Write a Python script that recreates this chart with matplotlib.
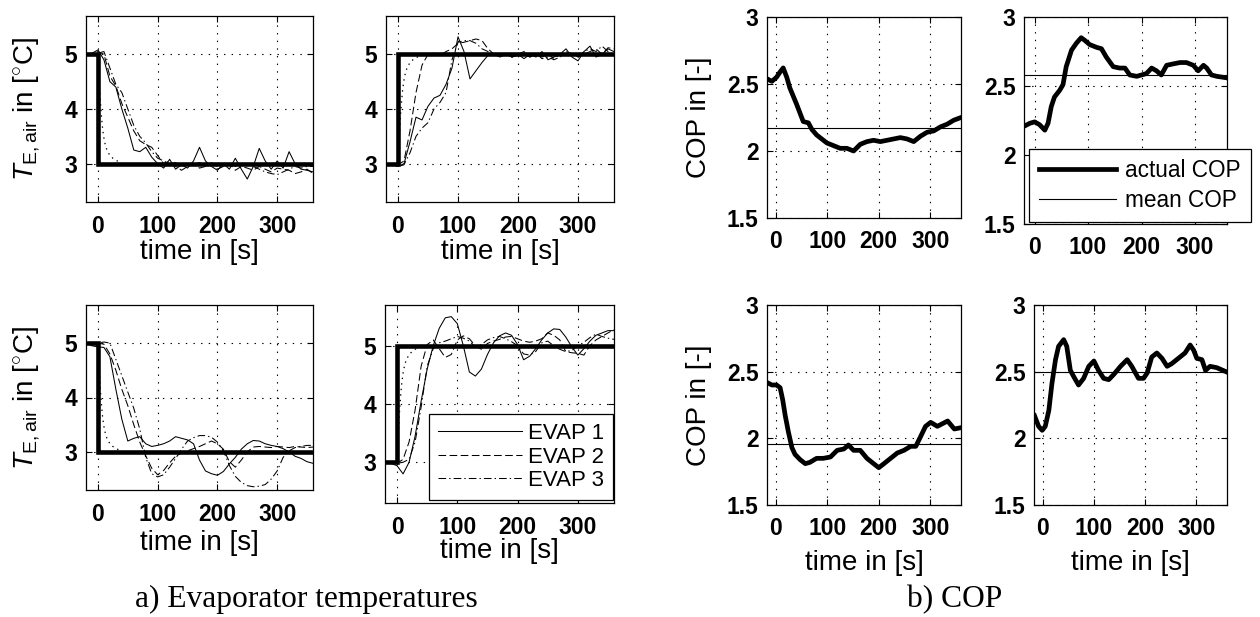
import matplotlib
matplotlib.use('Agg')
import matplotlib.pyplot as plt

plt.rcParams.update({
    'font.family': ['Liberation Sans', 'DejaVu Sans'],
    'mathtext.fontset': 'custom',
    'mathtext.rm': 'Liberation Sans',
    'mathtext.it': 'Liberation Sans:italic',
    'mathtext.bf': 'Liberation Sans:bold',
    'lines.scale_dashes': False,
})

# ---------------- data ----------------
x_ticks = [0, 100, 200, 300]
temp_yticks = [3, 4, 5]
cop_yticks = [1.5, 2, 2.5, 3]
cop_yticklabels = ['1.5', '2', '2.5', '3']
evap_names = ['EVAP 1', 'EVAP 2', 'EVAP 3']
cop_names = ['actual COP', 'mean COP']

# sample times of the evaporator traces
t_evap = [-20, -10, 0, 10, 20, 30, 40, 50, 60, 70, 80, 90, 100, 110, 120, 130,
          140, 150, 160, 170, 180, 190, 200, 210, 220, 230, 240, 250, 260, 270,
          280, 290, 300, 310, 320, 330, 340, 350, 360]

# set points
sp_t = [-20, 0, 0, 360]
sp_down = [5, 5, 3, 3]
sp_up = [3, 3, 5, 5]

# reference model response (dotted)
ref_t = [0, 2, 4, 6, 8, 10, 12, 15, 20, 25, 30, 40]
ref_down = [5.0, 4.55, 4.15, 3.85, 3.62, 3.47, 3.36, 3.25, 3.15, 3.10, 3.06, 3.02]
ref_up = [3.0, 3.45, 3.85, 4.15, 4.38, 4.53, 4.64, 4.75, 4.85, 4.90, 4.94, 4.98]

# panel 1 (top left): step 5 -> 3
p1_e1 = [5.0, 5.02, 5.08, 4.9, 4.5, 4.4, 4.0, 3.65, 3.25, 3.22, 3.3, 3.12, 3.0, 2.92,
         3.08, 2.9, 2.98, 2.92, 3.05, 3.3, 3.05, 2.95, 2.88, 3.0, 2.9, 3.1, 2.9, 2.72,
         2.95, 3.28, 3.05, 2.9, 3.05, 2.92, 3.22, 3.0, 2.9, 2.88, 2.85]
p1_e2 = [5.0, 5.0, 5.05, 5.0, 4.6, 4.42, 4.1, 3.85, 3.6, 3.42, 3.35, 3.3, 3.15, 3.0,
         3.05, 2.95, 2.88, 2.95, 3.0, 2.92, 2.95, 3.02, 2.9, 2.95, 3.0, 2.88, 2.95,
         2.92, 2.88, 2.95, 2.9, 2.85, 2.92, 2.9, 2.88, 2.82, 2.85, 2.9, 2.82]
p1_e3 = [5.0, 5.0, 5.02, 5.05, 4.75, 4.45, 4.3, 4.0, 3.7, 3.5, 3.38, 3.22, 3.1, 3.05,
         3.0, 3.02, 2.95, 3.0, 2.98, 3.02, 2.95, 3.0, 2.95, 2.98, 3.0, 2.95, 2.98,
         3.0, 2.95, 2.9, 2.85, 2.82, 2.8, 2.85, 2.9, 2.95, 2.92, 2.95, 2.95]

# panel 2 (top right): step 3 -> 5
p2_e1 = [3.0, 2.98, 2.95, 3.0, 3.4, 3.85, 3.8, 4.05, 4.2, 4.25, 4.45, 4.75, 5.32,
         5.05, 4.55, 4.7, 4.85, 4.98, 5.0, 4.95, 5.0, 4.95, 5.0, 4.92, 5.0, 4.95,
         5.05, 4.9, 4.95, 5.0, 5.1, 4.95, 4.88, 5.05, 5.15, 4.95, 5.0, 5.1, 5.05]
p2_e2 = [3.0, 3.0, 2.98, 3.05, 3.6, 4.3, 4.8, 5.0, 5.02, 4.98, 5.05, 5.1, 5.2, 5.22,
         5.25, 5.28, 5.25, 5.1, 5.0, 4.98, 5.02, 4.95, 5.0, 5.05, 4.95, 5.0, 4.95,
         5.0, 4.92, 5.0, 5.05, 5.0, 4.95, 5.0, 5.05, 5.1, 5.0, 5.12, 5.1]
p2_e3 = [3.0, 3.0, 2.95, 2.98, 3.2, 3.5, 3.65, 3.75, 4.0, 4.12, 4.3, 4.9, 5.22, 5.25,
         5.25, 5.2, 5.1, 5.05, 5.0, 4.98, 5.0, 4.95, 4.98, 5.0, 4.95, 5.02, 4.92,
         4.95, 4.9, 4.95, 5.0, 5.02, 4.95, 5.05, 5.1, 5.05, 5.15, 5.05, 5.0]

# panel 3 (bottom left): step 5 -> 3
p3_e1 = [5.0, 4.95, 4.93, 4.92, 4.75, 4.15, 3.6, 3.2, 3.25, 3.28, 3.15, 3.1, 3.12,
         3.15, 3.2, 3.28, 3.25, 3.22, 3.15, 2.85, 2.65, 2.6, 2.57, 2.64, 2.78, 2.9,
         3.05, 3.15, 3.21, 3.2, 3.15, 3.12, 3.1, 3.06, 3.0, 2.92, 2.88, 2.82, 2.79]
p3_e2 = [5.0, 5.0, 5.0, 4.98, 4.8, 4.5, 4.15, 3.85, 3.5, 3.18, 2.93, 2.7, 2.58, 2.66,
         2.8, 2.92, 2.98, 3.02, 3.06, 3.1, 3.15, 3.2, 3.15, 3.05, 2.82, 2.72, 2.85,
         3.0, 3.09, 3.1, 3.09, 3.08, 3.1, 3.09, 3.08, 3.1, 3.09, 3.08, 3.09]
p3_e3 = [5.0, 5.0, 5.0, 5.02, 5.0, 4.7, 4.4, 4.1, 3.8, 3.42, 2.9, 2.6, 2.54, 2.58,
         2.72, 2.88, 3.05, 3.2, 3.26, 3.3, 3.3, 3.27, 3.18, 3.02, 2.75, 2.55, 2.44,
         2.38, 2.36, 2.37, 2.4, 2.5, 2.65, 2.9, 3.02, 3.08, 3.1, 3.12, 3.12]

# panel 4 (bottom right): step 3 -> 5
p4_e1 = [3.0, 2.98, 2.94, 2.8, 3.0, 3.45, 4.05, 4.6, 5.0, 5.3, 5.48, 5.5, 5.38, 5.0,
         4.55, 4.48, 4.6, 4.85, 5.05, 5.17, 5.22, 5.18, 5.02, 4.76, 4.82, 4.95, 5.1,
         5.22, 5.29, 5.28, 5.15, 4.98, 4.84, 4.95, 5.08, 5.18, 5.22, 5.26, 5.26]
p4_e2 = [3.0, 3.0, 2.98, 3.05, 3.35, 3.9, 4.65, 5.02, 5.1, 4.95, 4.8, 4.85, 5.1, 5.17,
         5.12, 5.0, 4.94, 5.04, 5.08, 5.11, 5.15, 5.16, 5.12, 5.08, 5.06, 5.08, 5.12,
         5.22, 5.18, 5.1, 4.9, 4.88, 4.87, 4.84, 5.0, 5.1, 5.16, 5.22, 5.28]
p4_e3 = [3.0, 3.0, 2.98, 3.0, 3.05, 3.35, 3.95, 4.65, 4.95, 5.05, 5.08, 5.12, 5.16,
         5.13, 5.08, 4.98, 5.02, 5.1, 5.14, 5.16, 5.12, 5.07, 5.0, 4.86, 4.84, 4.9,
         5.05, 5.08, 5.0, 4.94, 4.9, 4.92, 5.0, 5.06, 5.14, 5.2, 5.16, 5.13, 5.11]

# COP panels
p5_t = [-18, -8, 1, 8, 14, 21, 27, 40, 53, 63, 70, 79, 89, 99, 112, 125, 138, 151,
        164, 177, 190, 203, 216, 229, 242, 255, 268, 281, 294, 307, 320, 333, 346, 360]
p5_cop = [2.54, 2.52, 2.55, 2.59, 2.62, 2.55, 2.47, 2.35, 2.22, 2.21, 2.16, 2.12,
          2.09, 2.06, 2.04, 2.02, 2.02, 2.0, 2.05, 2.07, 2.08, 2.07, 2.08, 2.09, 2.1,
          2.09, 2.07, 2.11, 2.14, 2.15, 2.18, 2.2, 2.23, 2.25]
p5_mean = 2.17

p6_t = [-19, -9, 0, 9, 19, 25, 31, 37, 47, 53, 59, 69, 78, 87, 94, 103, 116, 125,
        134, 147, 159, 169, 178, 191, 200, 209, 219, 228, 237, 247, 259, 272, 284,
        297, 306, 316, 322, 331, 341, 358]
p6_cop = [2.21, 2.23, 2.24, 2.22, 2.18, 2.23, 2.35, 2.42, 2.47, 2.51, 2.64, 2.76,
          2.81, 2.85, 2.83, 2.8, 2.78, 2.77, 2.71, 2.64, 2.63, 2.63, 2.58, 2.57, 2.58,
          2.59, 2.63, 2.61, 2.58, 2.65, 2.66, 2.67, 2.67, 2.65, 2.61, 2.65, 2.63, 2.58,
          2.57, 2.56]
p6_mean = 2.58

p7_t = [-18, -8, 1, 8, 13, 18, 24, 31, 37, 47, 57, 66, 79, 92, 106, 119, 132, 141,
        151, 164, 177, 190, 200, 210, 223, 236, 249, 262, 272, 281, 291, 301, 314,
        324, 334, 347, 360]
p7_cop = [2.42, 2.4, 2.4, 2.38, 2.29, 2.17, 2.05, 1.93, 1.88, 1.84, 1.81, 1.82, 1.85,
          1.85, 1.86, 1.91, 1.92, 1.95, 1.91, 1.91, 1.85, 1.81, 1.78, 1.81, 1.85, 1.89,
          1.91, 1.94, 1.94, 2.01, 2.09, 2.12, 2.09, 2.11, 2.13, 2.07, 2.08]
p7_mean = 1.96

p8_t = [-16, -8, -1, 5, 12, 18, 25, 31, 41, 47, 54, 61, 70, 80, 90, 100, 109, 119,
        129, 139, 152, 165, 174, 187, 197, 204, 213, 223, 233, 243, 252, 265, 278,
        288, 295, 301, 311, 318, 327, 340, 358]
p8_cop = [2.17, 2.09, 2.06, 2.09, 2.21, 2.41, 2.59, 2.69, 2.74, 2.69, 2.51, 2.46, 2.4,
          2.45, 2.54, 2.58, 2.51, 2.45, 2.44, 2.48, 2.54, 2.59, 2.54, 2.45, 2.45, 2.49,
          2.61, 2.64, 2.6, 2.54, 2.56, 2.6, 2.64, 2.7, 2.66, 2.6, 2.59, 2.51, 2.54,
          2.53, 2.5]
p8_mean = 2.5

# ---------------- figure ----------------
W, H = 1260, 617
fig = plt.figure(figsize=(W / 100, H / 100), dpi=100)


def rect(l, t, r, b):
    return [l / W, 1 - b / H, (r - l) / W, (b - t) / H]


TICK_FS = 16.5
LABEL_FS = 20
DOT = (0, (1, 4.5))
DASH = (0, (5.5, 2.5))
DASHDOT = (0, (5.5, 2.2, 1.0, 2.2))


def style(ax, ylim, yticks, yticklabels, xlim, xpad, ypad):
    ax.set_xlim(*xlim)
    ax.set_ylim(*ylim)
    ax.set_xticks(x_ticks)
    ax.set_yticks(yticks)
    ax.set_yticklabels(yticklabels)
    ax.tick_params(direction='in', top=True, right=True, length=4, width=0.8,
                   labelsize=TICK_FS, colors='black')
    ax.tick_params(axis='x', pad=xpad)
    ax.tick_params(axis='y', pad=ypad)
    for lab in ax.get_xticklabels() + ax.get_yticklabels():
        lab.set_fontweight('bold')
    ax.grid(True, linestyle=DOT, color='black', linewidth=0.8)
    for s in ax.spines.values():
        s.set_linewidth(0.9)
        s.set_color('black')


def temp_panel(r, sp, ref, e1, e2, e3, ylabel, xlab_y):
    ax = fig.add_axes(rect(*r))
    style(ax, (2.3, 5.7), temp_yticks, [str(v) for v in temp_yticks], (-20, 360), 9.5, 6.5)
    ax.plot(sp_t, sp, color='black', lw=3.3, solid_joinstyle='miter', zorder=3)
    ax.plot(ref_t, ref, color='black', lw=0.9, linestyle=(0, (1, 3)), zorder=3)
    l1, = ax.plot(t_evap, e1, color='black', lw=0.75, linestyle='-', zorder=4)
    l2, = ax.plot(t_evap, e2, color='black', lw=0.75, linestyle=DASH, zorder=4)
    l3, = ax.plot(t_evap, e3, color='black', lw=0.75, linestyle=DASHDOT, zorder=4)
    if ylabel:
        ax.set_ylabel(r'$T_{\mathrm{E,air}}$ in [$^{\circ}$C]', fontsize=LABEL_FS)
        ax.yaxis.set_label_coords(-0.194, 0.5)
    ax.set_xlabel('time in [s]', fontsize=LABEL_FS)
    ax.xaxis.set_label_coords(0.5, xlab_y)
    return ax, (l1, l2, l3)


def cop_panel(r, t, cop, mean, xlim, ylabel, xlabel, xlab_y=-0.225):
    ax = fig.add_axes(rect(*r))
    style(ax, (1.5, 3), cop_yticks, cop_yticklabels, xlim, 8.3, 6.0)
    a, = ax.plot(t, cop, color='black', lw=3.4, solid_joinstyle='round', zorder=3)
    m = ax.axhline(mean, color='black', lw=0.8, zorder=3)
    if ylabel:
        ax.set_ylabel('COP in [-]', fontsize=LABEL_FS)
        ax.yaxis.set_label_coords(-0.285, 0.5)
    if xlabel:
        ax.set_xlabel('time in [s]', fontsize=LABEL_FS)
        ax.xaxis.set_label_coords(0.5, xlab_y)
    return ax, (a, m)


temp_panel((86, 16, 313, 202), sp_down, ref_down, p1_e1, p1_e2, p1_e3, True, -0.199)
temp_panel((386, 16, 614, 202), sp_up, ref_up, p2_e1, p2_e2, p2_e3, False, -0.199)
temp_panel((86, 305, 313, 490), sp_down, ref_down, p3_e1, p3_e2, p3_e3, True, -0.216)
ax4, evap_lines = temp_panel((385, 305, 614, 503), sp_up, ref_up, p4_e1, p4_e2, p4_e3,
                             False, -0.177)

leg4 = ax4.legend(evap_lines, evap_names, loc='upper left',
                  bbox_to_anchor=(429 / W, 1 - 414 / H), bbox_transform=fig.transFigure,
                  borderaxespad=0, fontsize=16, frameon=True, fancybox=False,
                  edgecolor='black', framealpha=1, handlelength=3.8, handletextpad=0.25,
                  labelspacing=0.12, borderpad=0.4)
leg4.get_frame().set_linewidth(0.9)
leg4.set_zorder(10)

cop_panel((767, 17, 961, 218), p5_t, p5_cop, p5_mean, (-17.5, 360), True, False)
ax6, cop_lines = cop_panel((1024, 17, 1227, 224), p6_t, p6_cop, p6_mean, (-20, 360),
                           False, False)
cop_panel((767, 305, 961, 505), p7_t, p7_cop, p7_mean, (-17.5, 360), True, True)
cop_panel((1034, 305, 1227, 505), p8_t, p8_cop, p8_mean, (-17, 360), False, True)

leg6 = ax6.legend(cop_lines, cop_names, loc='upper left',
                  bbox_to_anchor=(1029 / W, 1 - 149 / H), bbox_transform=fig.transFigure,
                  borderaxespad=0, fontsize=16.3, frameon=True, fancybox=False,
                  edgecolor='black', framealpha=1, handlelength=3.4, handletextpad=0.4,
                  labelspacing=0.28, borderpad=0.45)
leg6.get_frame().set_linewidth(0.9)
leg6.set_zorder(10)

fig.text(306 / W, 1 - 607 / H, 'a) Evaporator temperatures', ha='center',
         va='baseline', family='Liberation Serif', fontsize=22.7)
fig.text(955 / W, 1 - 607 / H, 'b) COP', ha='center', va='baseline',
         family='Liberation Serif', fontsize=22.7)

fig.savefig('out.png', dpi=100, facecolor='white')
